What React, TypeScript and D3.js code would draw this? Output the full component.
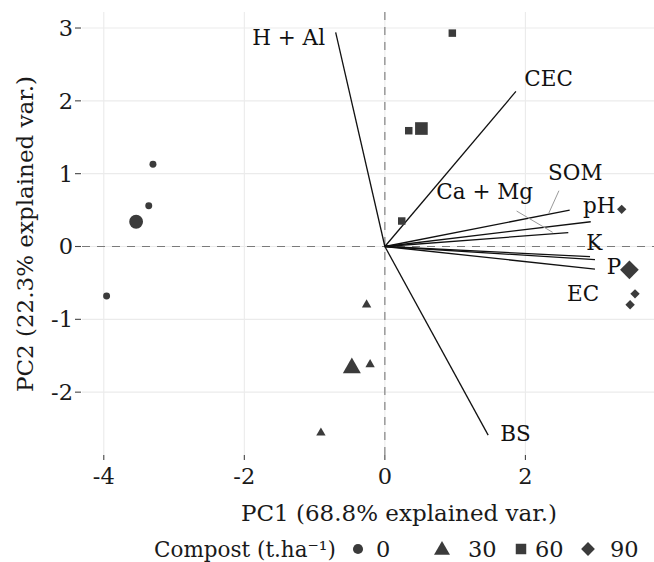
import React from "react";
import * as d3 from "d3";

// ---- data ----
const obsPC1 = [-3.30, -3.36, -3.96, -0.26, -0.21, -0.91, 0.96, 0.34, 0.24, 3.37, 3.56, 3.49];
const obsPC2 = [1.13, 0.56, -0.68, -0.79, -1.61, -2.55, 2.93, 1.59, 0.35, 0.51, -0.65, -0.80];
const obsGroup = ["0", "0", "0", "30", "30", "30", "60", "60", "60", "90", "90", "90"];

const groups = ["0", "30", "60", "90"];
const meanPC1 = [-3.54, -0.47, 0.52, 3.48];
const meanPC2 = [0.34, -1.65, 1.62, -0.32];

const varNames = ["H + Al", "CEC", "SOM", "pH", "Ca + Mg", "K", "P", "EC", "BS"];
const loadPC1 = [-0.70, 1.865, 2.63, 2.93, 2.61, 2.92, 2.99, 2.99, 1.47];
const loadPC2 = [2.94, 2.13, 0.50, 0.34, 0.19, -0.14, -0.18, -0.31, -2.59];
const labelPC1 = [-1.37, 2.33, 2.71, 3.05, 1.42, 2.98, 3.26, 2.82, 1.86];
const labelPC2 = [2.87, 2.31, 1.01, 0.57, 0.75, 0.055, -0.27, -0.64, -2.57];

// leader segments (label side -> arrow side), for repelled labels
const leaderVars = ["SOM", "Ca + Mg"];
const leaderFromPC1 = [2.477, 1.875];
const leaderFromPC2 = [0.766, 0.487];
const leaderToPC1 = [2.334, 2.387];
const leaderToPC2 = [0.46, 0.195];

const xTicks = [-4, -2, 0, 2];
const yTicks = [-2, -1, 0, 1, 2, 3];

const xTitle = "PC1 (68.8% explained var.)";
const yTitle = "PC2 (22.3% explained var.)";
const legendTitle = "Compost (t.ha⁻¹)";

// ---- layout ----
const W = 654;
const H = 562;
const panel = { left: 82, right: 654, top: 12, bottom: 455 };
const FONT = "'DejaVu Serif', serif";
const INK = "#3b3b3b";

const shapeOf: Record<string, d3.SymbolType> = {
  "0": d3.symbolCircle,
  "30": d3.symbolTriangle,
  "60": d3.symbolSquare,
  "90": d3.symbolSquare,
};
const smallSize: Record<string, number> = { "0": 38, "30": 38, "60": 56, "90": 44 };
const bigSize: Record<string, number> = { "0": 150, "30": 140, "60": 160, "90": 175 };
const legendSize: Record<string, number> = { "0": 80, "30": 110, "60": 110, "90": 95 };
const rotOf: Record<string, number> = { "0": 0, "30": 0, "60": 0, "90": 45 };

function Sym({ g, size, cx, cy }: { g: string; size: number; cx: number; cy: number }) {
  const path = d3.symbol().type(shapeOf[g]).size(size)();
  const dy = g === "30" ? Math.sqrt(size / (Math.sqrt(3) * 3)) * 0.25 : 0;
  return (
    <path
      d={path || ""}
      transform={`translate(${cx},${cy + dy}) rotate(${rotOf[g]})`}
      fill={INK}
    />
  );
}

export default function App() {
  const x = d3.scaleLinear().domain([-4.31, 3.83]).range([panel.left, panel.right]);
  const y = d3.scaleLinear().domain([-2.863, 3.22]).range([panel.bottom, panel.top]);

  const legendSymX = [358, 442, 521, 588];
  const legendLabX = [376, 468, 535, 610];
  const legendY = 549;

  return (
    <svg width={W} height={H} style={{ display: "block", position: "absolute", left: 0, top: 0 }} fontFamily={FONT}>
      <rect width={W} height={H} fill="#fff" />
      {/* grid */}
      {xTicks.map((t) => (
        <line key={"gx" + t} x1={x(t)} x2={x(t)} y1={panel.top} y2={panel.bottom} stroke="#ebebeb" strokeWidth={1.1} />
      ))}
      {yTicks.map((t) => (
        <line key={"gy" + t} x1={panel.left} x2={panel.right} y1={y(t)} y2={y(t)} stroke="#ebebeb" strokeWidth={1.1} />
      ))}
      {/* reference dashed lines */}
      <line x1={x(0)} x2={x(0)} y1={panel.top} y2={panel.bottom} stroke="#7a7a7a" strokeWidth={1.1} strokeDasharray="8 7" />
      <line x1={panel.left} x2={panel.right} y1={y(0)} y2={y(0)} stroke="#7a7a7a" strokeWidth={1.1} strokeDasharray="8 7" />

      {/* axes ticks & labels */}
      {yTicks.map((t) => (
        <g key={"yt" + t}>
          <line x1={75} x2={81} y1={y(t)} y2={y(t)} stroke="#444" strokeWidth={1.1} />
          <text x={73} y={y(t) + 8} textAnchor="end" fontSize={22.5} fill="#1a1a1a">
            {t}
          </text>
        </g>
      ))}
      {xTicks.map((t) => (
        <g key={"xt" + t}>
          <line x1={x(t)} x2={x(t)} y1={panel.bottom} y2={panel.bottom + 5} stroke="#444" strokeWidth={1.1} />
          <text x={x(t)} y={484} textAnchor="middle" fontSize={22.5} fill="#1a1a1a">
            {t}
          </text>
        </g>
      ))}

      {/* loading arrows */}
      {varNames.map((v, i) => (
        <line key={"ar" + v} x1={x(0)} y1={y(0)} x2={x(loadPC1[i])} y2={y(loadPC2[i])} stroke="#111" strokeWidth={1.3} />
      ))}
      {/* leader lines */}
      {leaderVars.map((v, i) => (
        <line
          key={"ld" + v}
          x1={x(leaderFromPC1[i])}
          y1={y(leaderFromPC2[i])}
          x2={x(leaderToPC1[i])}
          y2={y(leaderToPC2[i])}
          stroke="#9a9a9a"
          strokeWidth={1}
        />
      ))}
      {/* variable labels */}
      {varNames.map((v, i) => (
        <text
          key={"lb" + v}
          x={x(labelPC1[i])}
          y={y(labelPC2[i])}
          dy="0.35em"
          textAnchor="middle"
          fontSize={21.5}
          fill="#111"
        >
          {v}
        </text>
      ))}

      {/* observations */}
      {obsPC1.map((v, i) => (
        <Sym key={"o" + i} g={obsGroup[i]} size={smallSize[obsGroup[i]]} cx={x(v)} cy={y(obsPC2[i])} />
      ))}
      {groups.map((g, i) => (
        <Sym key={"m" + g} g={g} size={bigSize[g]} cx={x(meanPC1[i])} cy={y(meanPC2[i])} />
      ))}

      {/* axis titles */}
      <text x={399} y={521} textAnchor="middle" fontSize={23} fill="#1a1a1a">
        {xTitle}
      </text>
      <text transform={`translate(33,234) rotate(-90)`} textAnchor="middle" fontSize={23} fill="#1a1a1a">
        {yTitle}
      </text>

      {/* legend */}
      <text x={154} y={557} fontSize={21.5} fill="#1a1a1a">
        {legendTitle}
      </text>
      {groups.map((g, i) => (
        <g key={"lg" + g}>
          <Sym g={g} size={legendSize[g]} cx={legendSymX[i]} cy={legendY} />
          <text x={legendLabX[i]} y={557} fontSize={22.5} fill="#1a1a1a">
            {g}
          </text>
        </g>
      ))}
    </svg>
  );
}
